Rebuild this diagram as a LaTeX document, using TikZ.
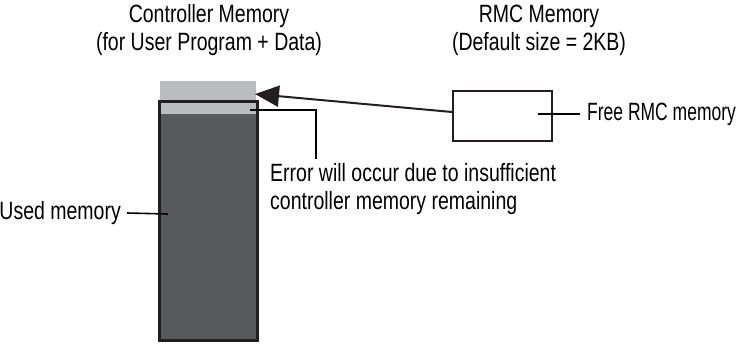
\documentclass[tikz,border=0pt]{standalone}
\usepackage{fontspec}
\setmainfont[FakeStretch=0.78]{Liberation Sans}
\newfontfamily\narrowlbl[FakeStretch=0.70]{Liberation Sans}
\usetikzlibrary{arrows.meta}
\definecolor{lightmem}{HTML}{BBBCBE}
\definecolor{darkmem}{HTML}{58595B}
\definecolor{framecol}{HTML}{231F20}
\tikzset{
  lbl/.style={font=\fontsize{25}{28}\selectfont, inner sep=0pt, text=black},
  region/.style={inner sep=0pt, outer sep=0pt, draw=none},
  leader/.style={line width=1.6pt, draw=black},
  framebox/.style={draw=framecol, line width=3pt, inner sep=0pt, fill=none},
  rmcbox/.style={draw=framecol, line width=2pt, inner sep=0pt, fill=white},
}
\begin{document}
\begin{tikzpicture}[x=1pt,y=-1pt]
\useasboundingbox (0,0) rectangle (747,343);
% titles
\node[lbl, align=center] (t1) at (209,30) {Controller Memory\\(for User Program + Data)};
\node[lbl, align=center] (t2) at (539,30) {RMC Memory\\(Default size = 2KB)};
% controller memory column
\node[region, fill=lightmem, minimum width=96pt, minimum height=33pt] (ctop) at (208,97.5) {};
\node[region, fill=darkmem, minimum width=96pt, minimum height=226pt] (used) at (208,227) {};
\node[framebox, minimum width=98pt, minimum height=239pt] (frame) at (208,220.5) {};
% RMC box
\node[rmcbox, minimum width=99pt, minimum height=50pt] (rmc) at (502.5,116) {};
% arrow
\coordinate (tip) at (255,94);
\draw[line width=2pt, draw=framecol, -{Triangle[length=24pt,width=21pt]}] ([yshift=4pt]rmc.west) -- (tip);
% free RMC label
\node[lbl, anchor=west, font=\fontsize{25}{28}\narrowlbl] (freelbl) at (587,114) {Free RMC memory};
\coordinate (f1) at (538,114);
\draw[leader] (f1) -- ([xshift=-7pt]freelbl.west);
% error label
\node[lbl, anchor=north west, align=left] (err) at (270,163) {Error will occur due to insufficient\\controller memory remaining};
\coordinate (e1) at (250,110);
\coordinate (e2) at (316,159);
\draw[leader] (e1) -| (e2);
% used memory label
\node[lbl, anchor=east] (usedlbl) at (121,213) {Used memory};
\coordinate (u1) at (168,214);
\draw[leader] ([xshift=6pt]usedlbl.east) -- (u1);
\end{tikzpicture}
\end{document}
